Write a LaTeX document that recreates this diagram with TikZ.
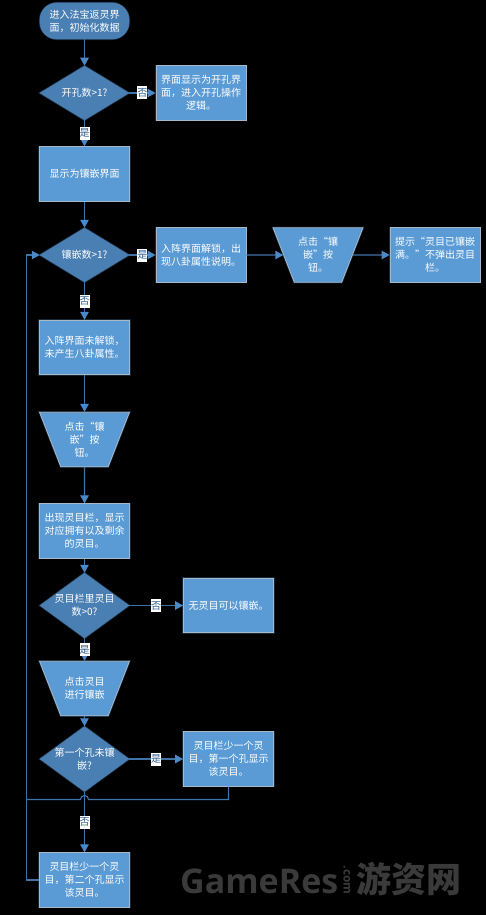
\documentclass[tikz,border=0pt]{standalone}
\usepackage{fontspec}
\setmainfont{Noto Sans CJK SC}
\newfontfamily\wmlatin[Scale=1]{Open Sans}
\usetikzlibrary{arrows.meta,shapes.geometric}
\definecolor{boxfill}{HTML}{5B9BD5}
\definecolor{diafill}{HTML}{4A7FB3}
\definecolor{edgegrey}{HTML}{A9B8C6}
\definecolor{linecol}{HTML}{3F74A8}
\definecolor{tipcol}{HTML}{4A88C7}
\definecolor{labelcol}{HTML}{2F5F90}
\definecolor{wm}{HTML}{3A3A3A}
\newcommand{\traph}{\makebox[47.4pt]{\rule{0pt}{54.5pt}}}
\tikzset{
  every node/.style={font=\fontsize{10}{13}\selectfont,text=white,align=center,inner sep=0pt},
  glow/.style={preaction={draw=boxfill!45!black,line width=2.2pt,opacity=.55}},
  boxnode/.style={rectangle,draw=edgegrey,line width=.8pt,fill=boxfill,minimum width=90pt,minimum height=54.5pt,glow},
  startnode/.style={rectangle,rounded corners=17pt,draw=diafill,line width=.8pt,fill=diafill,minimum width=89pt,minimum height=36pt,glow},
  dianode/.style={diamond,aspect=1.66,draw=diafill,line width=.5pt,fill=diafill,minimum width=89pt,minimum height=54pt,glow},
  bigdia/.style={dianode,aspect=1.37,minimum height=65pt},
  trapnode/.style={trapezium,trapezium angle=68.7,shape border rotate=180,draw=edgegrey,line width=.8pt,fill=boxfill,glow},
  conn/.style={draw=linecol,line width=1.1pt,-{Triangle[length=8pt,width=8.5pt,fill=tipcol,color=tipcol]}},
  plainconn/.style={draw=linecol,line width=1.1pt},
  edgelab/.style={fill=white,text=labelcol,font=\fontsize{10}{10}\selectfont,minimum width=10pt,minimum height=13pt},
}
\begin{document}
\begin{tikzpicture}[x=1pt,y=-1pt]
\useasboundingbox (0,0) rectangle (486,915);
\fill[black] (0,0) rectangle (486,915);
% watermark
\node[text=wm,font=\wmlatin\bfseries\fontsize{34}{34}\selectfont,anchor=west] (wmA) at (180,881) {GameRes};
\node[text=wm,font=\wmlatin\bfseries\fontsize{12}{12}\selectfont,rotate=-90] (wmB) at (347,880) {.com};
\node[text=wm,font=\bfseries\fontsize{35}{35}\selectfont,anchor=west] (wmC) at (356,879) {游资网};
% nodes
\node[startnode] (start) at (84.5,21) {进入法宝返灵界\\面，初始化数据};
\node[dianode] (d1) at (84.5,93) {};
\node (d1t) at (d1) {开孔数>1?};
\node[boxnode] (r1) at (201,93) {界面显示为开孔界\\面，进入开孔操作\\逻辑。};
\node[boxnode] (b2) at (84.5,174) {显示为镶嵌界面};
\node[dianode] (d2) at (84.5,255) {};
\node (d2t) at (d2) {镶嵌数>1?};
\node[boxnode] (r2) at (201,255) {入阵界面解锁，出\\现八卦属性说明。};
\node[trapnode] (t1) at (318,255) {\traph};
\node (t1t) at (t1) {点击“镶\\嵌”按\\钮。};
\node[boxnode] (r3) at (435,255) {提示“灵目已镶嵌\\满。”不弹出灵目\\栏。};
\node[boxnode] (b3) at (84.5,347.5) {入阵界面未解锁，\\未产生八卦属性。};
\node[trapnode] (t2) at (84.5,439.5) {\traph};
\node (t2t) at (t2) {点击“镶\\嵌”按\\钮。};
\node[boxnode] (b4) at (84.5,531) {出现灵目栏，显示\\对应拥有以及剩余\\的灵目。};
\node[bigdia] (d3) at (84.5,605.5) {};
\node (d3t) at (d3) {灵目栏里灵目\\数>0?};
\node[boxnode] (r4) at (228.5,605.5) {无灵目可以镶嵌。};
\node[trapnode] (t3) at (84.5,688.5) {\traph};
\node (t3t) at (t3) {点击灵目\\进行镶嵌};
\node[bigdia] (d4) at (84.5,759) {};
\node (d4t) at (d4) {第一个孔未镶\\嵌?};
\node[boxnode] (r5) at (228.5,759) {灵目栏少一个灵\\目，第一个孔显示\\该灵目。};
\node[boxnode] (b5) at (84.5,880) {灵目栏少一个灵\\目，第二个孔显示\\该灵目。};
% free coordinates
\coordinate (loopL) at (26.5,880);
\coordinate (loopT) at (26.5,255);
\coordinate (hopR) at (88.5,799.5);
\coordinate (mergeL) at (26.5,799.5);
% connectors
\draw[conn] (start) -- (d1);
\draw[conn] (d1) -- (r1) node[midway,edgelab] (l1) {否};
\draw[conn] (d1) -- (b2) node[midway,edgelab] (l2) {是};
\draw[conn] (b2) -- (d2);
\draw[conn] (d2) -- (r2) node[midway,edgelab] (l3) {是};
\draw[conn] (r2) -- (t1);
\draw[conn] (t1) -- (r3);
\draw[conn] (d2) -- (b3) node[midway,edgelab] (l4) {否};
\draw[conn] (b3) -- (t2);
\draw[conn] (t2) -- (b4);
\draw[conn] (b4) -- (d3);
\draw[conn] (d3) -- (r4) node[midway,edgelab] (l5) {否};
\draw[conn] (d3) -- (t3) node[midway,edgelab] (l6) {是};
\draw[conn] (t3) -- (d4);
\draw[conn] (d4) -- (r5) node[midway,edgelab] (l7) {是};
\draw[conn] (d4) -- (b5) node[midway,edgelab] (l8) {否};
\draw[plainconn] (r5.south) |- (hopR) arc[start angle=0,end angle=180,radius=4pt] -- (mergeL);
\draw[conn] (b5.west) -- (loopL) -- (loopT) -- (d2.west);
\end{tikzpicture}
\end{document}
